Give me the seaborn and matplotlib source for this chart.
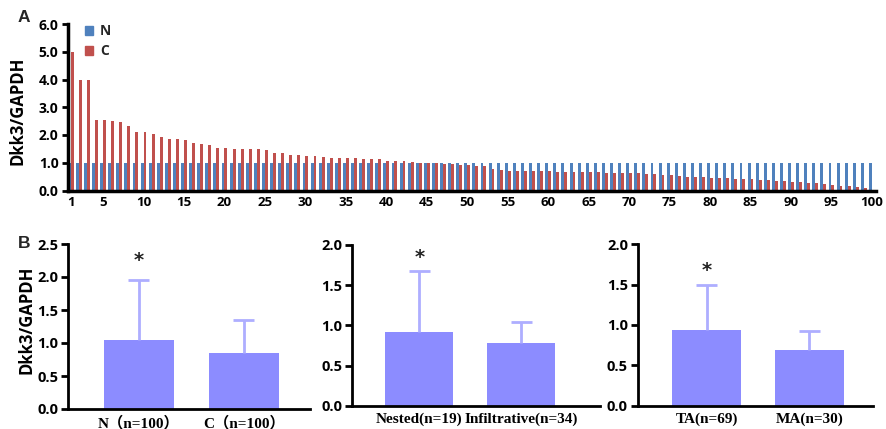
import numpy as np
import pandas as pd
import matplotlib
matplotlib.use("Agg")
import matplotlib.pyplot as plt
import seaborn as sns
from matplotlib.patches import Patch

# ---------------- data ----------------
samples = [str(i) for i in range(1, 101)]
n_values = [1.0] * 100
c_values = [5.0, 4.0, 4.0, 2.55, 2.55, 2.52, 2.47, 2.33, 2.10, 2.10,
            2.02, 1.94, 1.87, 1.87, 1.83, 1.72, 1.68, 1.64, 1.54, 1.54,
            1.50, 1.50, 1.50, 1.50, 1.46, 1.34, 1.34, 1.28, 1.28, 1.24,
            1.24, 1.20, 1.16, 1.16, 1.16, 1.16, 1.12, 1.12, 1.12, 1.07,
            1.07, 1.07, 1.04, 1.00, 1.00, 1.00, 0.97, 0.94, 0.93, 0.92,
            0.89, 0.89, 0.77, 0.73, 0.72, 0.72, 0.72, 0.71, 0.69, 0.69,
            0.68, 0.68, 0.66, 0.68, 0.65, 0.65, 0.64, 0.64, 0.62, 0.62,
            0.62, 0.61, 0.60, 0.57, 0.55, 0.54, 0.50, 0.50, 0.50, 0.46,
            0.46, 0.45, 0.42, 0.42, 0.41, 0.37, 0.37, 0.36, 0.34, 0.30,
            0.30, 0.26, 0.26, 0.22, 0.21, 0.17, 0.16, 0.12, 0.09, 0.02]
top_tick_labels = ["1", "5", "10", "15", "20", "25", "30", "35", "40", "45", "50",
                   "55", "60", "65", "70", "75", "80", "85", "90", "95", "100"]

cats_b1 = ["N（n=100）", "C（n=100）"]
means_b1 = [1.04, 0.85]
upper_b1 = [1.95, 1.35]

cats_b2 = ["Nested(n=19)", "Infiltrative(n=34)"]
means_b2 = [0.92, 0.78]
upper_b2 = [1.68, 1.04]

cats_b3 = ["TA(n=69)", "MA(n=30)"]
means_b3 = [0.94, 0.69]
upper_b3 = [1.50, 0.92]

# ---------------- style ----------------
sns.set_theme(style="white")
plt.rcParams["font.family"] = ["Open Sans", "DejaVu Sans"]

BLUE = "#4F81BD"
RED = "#C0504D"
BAR = "#8C8CFF"
ERR = "#AEAEFF"

fig = plt.figure(figsize=(8.87, 4.29), dpi=100)

# ---------------- panel A ----------------
axA = fig.add_axes([68.3 / 887, 1 - 190.5 / 429, (876 - 68.3) / 887, (190.5 - 24) / 429])
df = pd.DataFrame({
    "sample": samples * 2,
    "group": ["N"] * 100 + ["C"] * 100,
    "value": n_values + c_values,
})
sns.barplot(data=df, x="sample", y="value", hue="group", hue_order=["N", "C"],
            order=samples, palette={"N": BLUE, "C": RED}, width=0.72,
            saturation=1, linewidth=0, legend=False, ax=axA)
axA.set_xlim(-0.3, 99.5)
axA.set_ylim(0, 6)
axA.set_yticks([0, 1, 2, 3, 4, 5, 6])
axA.set_yticklabels(["0.0", "1.0", "2.0", "3.0", "4.0", "5.0", "6.0"],
                    fontsize=10, fontweight="bold")
pos = [samples.index(t) for t in top_tick_labels]
axA.set_xticks(pos)
axA.set_xticklabels(top_tick_labels, fontsize=9.5, fontweight="bold")
axA.tick_params(axis="x", length=0, pad=4, colors="black")
axA.tick_params(axis="y", length=4, width=2, direction="out", pad=3, left=True, colors="black")
for s in ["top", "right"]:
    axA.spines[s].set_visible(False)
for s in ["left", "bottom"]:
    axA.spines[s].set_color("black")
    axA.spines[s].set_linewidth(2.5)
axA.set_xlabel("")
axA.set_ylabel("Dkk3/GAPDH", fontsize=12, fontweight="bold", color="black")
axA.yaxis.set_label_coords(-0.052, 0.48)
handles = [Patch(color=BLUE, label="N"), Patch(color=RED, label="C")]
leg = axA.legend(handles=handles, loc="upper left", bbox_to_anchor=(0.005, 1.075),
                 frameon=False, handlelength=0.6, handleheight=0.6,
                 handletextpad=0.5, labelspacing=0.45,
                 prop={"weight": "bold", "size": 10})

# ---------------- panel B ----------------
serif = ["Liberation Serif", "Noto Sans CJK SC"]


def bar_panel(rect, cats, means, upper, ymax, ystep, star_y, xlim, ylabel=False):
    ax = fig.add_axes(rect)
    sns.barplot(x=cats, y=means, color=BAR, saturation=1, width=0.667,
                linewidth=0, ax=ax)
    xs = np.arange(len(cats))
    ax.vlines(xs, means, upper, color=ERR, linewidth=2, zorder=1)
    ax.hlines(upper, xs - 0.1, xs + 0.1, color=ERR, linewidth=2, zorder=1)
    ax.text(0, star_y, "*", ha="center", va="baseline", fontsize=14,
            fontweight="bold", color="#222222", family="DejaVu Sans")
    ax.set_xlim(*xlim)
    ax.set_ylim(0, ymax)
    ticks = np.arange(0, ymax + 1e-9, ystep)
    ax.set_yticks(ticks)
    ax.set_yticklabels([f"{t:.1f}" for t in ticks], fontsize=10.5, fontweight="bold")
    ax.set_xticks(xs)
    ax.set_xticklabels(cats, family=serif, fontsize=11, fontweight="bold")
    ax.tick_params(axis="x", direction="in", length=4, width=2, pad=5,
                   bottom=True, colors="black")
    ax.tick_params(axis="y", direction="out", length=5, width=2, pad=2,
                   left=True, colors="black")
    for s in ["top", "right"]:
        ax.spines[s].set_visible(False)
    for s in ["left", "bottom"]:
        ax.spines[s].set_color("black")
        ax.spines[s].set_linewidth(2)
    ax.set_xlabel("")
    if ylabel:
        ax.set_ylabel("Dkk3/GAPDH", fontsize=12, fontweight="bold", color="black")
        ax.yaxis.set_label_coords(-0.135, 0.54)
    return ax


bar_panel([68 / 887, 1 - 409 / 429, (310 - 68) / 887, (409 - 244) / 429],
          cats_b1, means_b1, upper_b1, 2.5, 0.5, 2.17, (-0.676, 1.63), ylabel=True)
bar_panel([352 / 887, 1 - 405.7 / 429, (600 - 352) / 887, (405.7 - 245) / 429],
          cats_b2, means_b2, upper_b2, 2.0, 0.5, 1.78, (-0.66, 1.77))
bar_panel([637.7 / 887, 1 - 405.7 / 429, (873 - 637.7) / 887, (405.7 - 244.3) / 429],
          cats_b3, means_b3, upper_b3, 2.0, 0.5, 1.61, (-0.67, 1.62))

fig.text(18 / 887, 1 - 18 / 429, "A", fontsize=12.5, fontweight="bold",
         ha="left", va="center", family=["Liberation Sans", "DejaVu Sans"])
fig.text(18 / 887, 1 - 243 / 429, "B", fontsize=12.5, fontweight="bold",
         ha="left", va="center", family=["Liberation Sans", "DejaVu Sans"])

fig.savefig("out.png", dpi=100)
